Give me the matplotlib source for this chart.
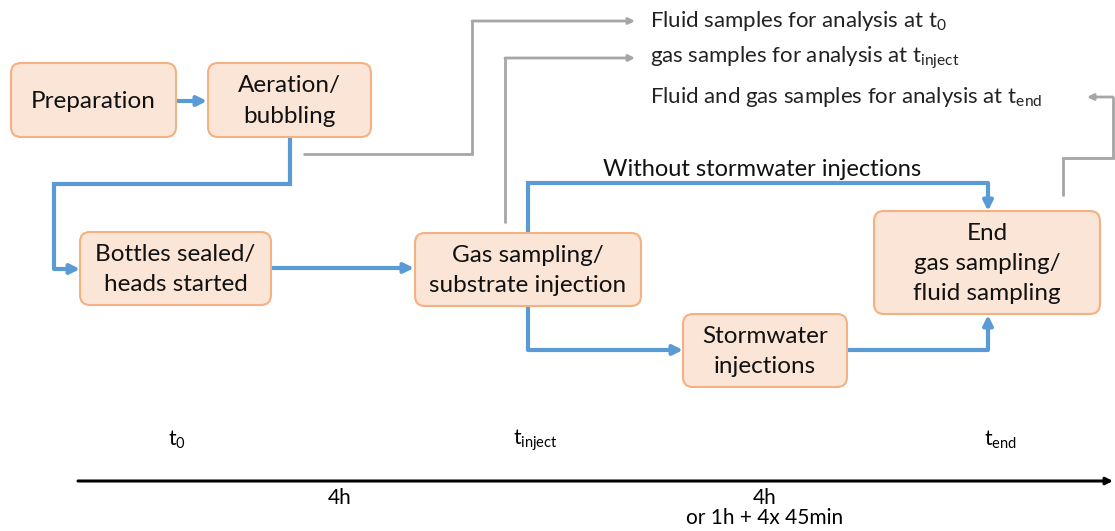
import matplotlib
matplotlib.use("Agg")
import matplotlib.pyplot as plt
from matplotlib.patches import FancyBboxPatch

plt.rcParams['font.family'] = ['Lato', 'DejaVu Sans']
plt.rcParams['mathtext.fontset'] = 'custom'
plt.rcParams['mathtext.rm'] = 'Lato'
plt.rcParams['mathtext.it'] = 'Lato:italic'

# step labels
steps = ["Preparation", "Aeration/\nbubbling", "Bottles sealed/\nheads started",
         "Gas sampling/\nsubstrate injection", "Stormwater\ninjections",
         "End\ngas sampling/\nfluid sampling"]
sample_notes = ["Fluid samples for analysis at t$_{\\mathrm{0}}$",
                "gas samples for analysis at t$_{\\mathrm{inject}}$",
                "Fluid and gas samples for analysis at t$_{\\mathrm{end}}$"]
branch_label = "Without stormwater injections"
time_marks = ["t$_{\\mathrm{0}}$", "t$_{\\mathrm{inject}}$", "t$_{\\mathrm{end}}$"]
durations = ["4h", "4h"]
duration_note = "or 1h + 4x 45min"

# layout in pixels (x0, y0, x1, y1)
boxes = [(11, 63, 176, 137), (208, 63, 371, 137), (80, 232, 271, 305),
         (415, 233, 641, 306), (683, 314, 847, 387), (874, 211, 1100, 314)]

BLUE = '#5B9BD5'
GRAY = '#A6A6A6'
FILL = '#FBE5D6'
EDGE = '#F4B183'

fig = plt.figure(figsize=(11.15, 5.31), dpi=100)
ax = fig.add_axes([0, 0, 1, 1])
ax.set_xlim(0, 1115)
ax.set_ylim(531, 0)
ax.axis('off')

for (x0, y0, x1, y1), lab in zip(boxes, steps):
    ax.add_patch(FancyBboxPatch((x0, y0), x1 - x0, y1 - y0,
                                boxstyle="round,pad=0,rounding_size=10",
                                fc=FILL, ec=EDGE, lw=1.5, zorder=2))
    ax.text((x0 + x1) / 2, (y0 + y1) / 2 + 1, lab, ha='center', va='center',
            fontsize=17.5, linespacing=1.55, color='#111111', zorder=3)


def path(pts, color, lw, ms):
    xs = [p[0] for p in pts[:-1]]
    ys = [p[1] for p in pts[:-1]]
    ax.plot(xs, ys, color=color, lw=lw, solid_capstyle='butt',
            solid_joinstyle='miter', zorder=1)
    ax.annotate('', xy=pts[-1], xytext=pts[-2],
                arrowprops=dict(arrowstyle='-|>', color=color, lw=lw,
                                mutation_scale=ms, shrinkA=0, shrinkB=0),
                zorder=1)


# blue process arrows
path([(176, 101), (207, 101)], BLUE, 3, 14)
path([(290, 137), (290, 184), (54, 184), (54, 269), (80, 269)], BLUE, 3, 14)
path([(271, 268), (414, 268)], BLUE, 3, 14)
path([(528, 233), (528, 183), (988, 183), (988, 211)], BLUE, 3, 14)
path([(528, 306), (528, 350), (683, 350)], BLUE, 3, 14)
path([(847, 350), (988, 350), (988, 315)], BLUE, 3, 14)

# gray sampling arrows
path([(303, 154), (472, 154), (472, 21), (635, 21)], GRAY, 2, 9)
path([(505, 223), (505, 58), (635, 58)], GRAY, 2, 9)
path([(1063, 196), (1063, 158), (1113, 158), (1113, 97), (1087, 97)], GRAY, 2, 9)

for y, note in zip([21, 58, 97], sample_notes):
    ax.text(650, y, note, ha='left', va='center', fontsize=16, color='#222222')

ax.text(603, 170, branch_label, ha='left', va='center', fontsize=17, color='#111111')

# timeline
ax.annotate('', xy=(1113, 481), xytext=(78, 481),
            arrowprops=dict(arrowstyle='-|>', color='black', lw=2.2,
                            mutation_scale=10, shrinkA=0, shrinkB=0))
for x, lab in zip([177, 535, 1000], time_marks):
    ax.text(x, 440, lab, ha='center', va='center', fontsize=15)
for x, lab in zip([340, 765], durations):
    ax.text(x, 498, lab, ha='center', va='center', fontsize=15)
ax.text(765, 518, duration_note, ha='center', va='center', fontsize=15)

fig.savefig("out.png", dpi=100)
